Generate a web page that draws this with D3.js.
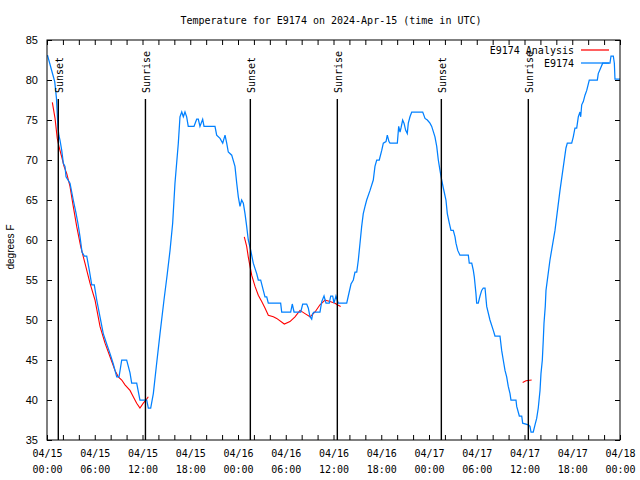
<!DOCTYPE html>
<html><head><meta charset="utf-8">
<script src="https://cdn.jsdelivr.net/npm/d3@7"></script>
<style>body{margin:0;background:#fff;}svg{display:block}</style>
</head><body>
<script>
// Observed temperature (E9174): hours since 2024-04-15 00:00 UTC, degrees F
const obsHours = [0.06,0.50,0.97,1.19,1.38,1.51,1.63,1.85,2.05,2.26,2.39,2.89,3.30,3.64,3.90,4.15,4.40,4.69,4.99,5.32,5.62,5.94,6.25,6.66,7.07,7.50,7.92,8.33,8.76,9.05,9.39,10.01,10.43,10.64,11.27,11.68,12.53,12.73,13.03,13.36,13.78,14.20,14.70,15.08,15.46,15.79,16.08,16.50,16.71,16.93,17.13,17.34,17.55,17.75,18.47,18.81,19.01,19.22,19.56,19.73,21.11,21.32,21.74,22.08,22.37,22.58,22.78,23.21,23.62,23.84,24.04,24.25,24.46,24.67,24.88,25.09,25.29,25.60,25.92,26.35,26.55,26.85,27.18,27.39,27.61,27.81,29.36,29.49,30.62,30.82,31.04,31.88,32.13,32.63,32.83,33.05,33.26,33.39,33.55,34.30,34.52,34.81,35.06,35.47,35.65,35.90,36.06,36.31,36.60,37.66,37.86,38.20,38.49,38.70,38.92,39.12,39.33,39.54,39.74,39.96,40.17,40.59,41.00,41.21,41.43,41.75,42.06,42.26,42.60,42.76,42.97,43.10,44.02,44.19,44.36,44.48,44.69,44.86,45.07,45.27,45.40,45.61,45.83,47.21,47.50,47.79,48.12,48.34,48.75,48.97,49.17,49.38,49.59,49.80,50.13,50.30,50.55,50.76,51.05,51.27,51.39,51.61,51.89,52.94,53.06,53.37,53.57,53.69,53.90,53.99,54.19,54.41,54.62,54.82,55.04,55.25,55.66,56.08,56.29,56.92,57.13,57.33,57.55,57.76,57.96,58.18,58.30,58.93,59.02,59.35,59.65,59.77,60.48,60.69,60.82,61.10,61.32,61.53,61.73,61.95,62.07,62.24,62.36,62.45,62.61,62.70,63.20,63.83,64.46,65.21,65.38,65.93,66.13,66.34,66.56,66.76,66.97,67.06,67.19,67.39,67.60,67.82,68.14,69.15,69.27,69.57,69.82,70.74,70.87,71.16,71.29,71.37,72.00];
const obsTemps = [83.1,81.5,79.8,77.7,74.0,73.0,72.5,71.2,69.6,69.2,67.9,67.1,65.0,63.4,62.0,60.4,58.5,58.0,58.0,56.2,54.4,54.4,52.5,50.4,48.3,47.0,45.8,44.5,42.9,42.9,45.0,45.0,43.4,42.1,42.1,40.0,40.0,39.0,39.0,40.8,44.6,48.3,52.5,55.5,58.7,62.1,67.1,72.1,75.4,76.0,75.4,76.0,75.4,74.2,74.2,75.1,75.1,74.2,75.1,74.2,74.2,73.1,72.7,72.1,73.1,72.1,71.0,70.6,69.2,67.1,65.4,64.2,65.0,64.6,63.3,61.7,60.0,58.7,57.1,55.8,55.0,55.0,53.7,52.9,52.9,52.1,52.1,51.0,51.0,52.0,51.0,51.0,52.0,52.0,51.5,50.4,50.1,50.8,51.0,51.0,52.3,53.0,52.1,52.1,53.0,53.0,52.1,53.0,52.1,52.1,53.0,54.5,55.0,56.0,56.0,57.5,59.6,61.7,63.3,64.2,65.0,66.2,67.5,69.2,70.0,70.0,71.2,72.1,72.3,73.1,72.3,72.1,72.1,74.2,73.5,74.0,75.0,74.6,73.7,73.3,74.6,75.4,76.0,76.0,75.2,75.0,74.6,74.2,72.9,71.7,70.0,68.7,67.5,66.5,65.0,63.3,62.1,61.2,61.2,60.4,59.6,58.7,58.1,58.1,57.1,57.1,56.2,55.4,53.3,52.1,52.1,53.0,53.7,54.0,54.0,51.7,50.0,48.7,48.0,48.0,46.2,45.0,43.7,42.9,41.7,40.8,40.0,40.0,39.2,38.0,38.0,37.1,36.9,36.7,36.0,36.0,36.9,37.7,39.0,41.2,43.3,45.0,47.5,49.6,51.7,53.7,57.5,61.2,66.2,71.5,72.1,72.1,72.9,74.0,74.0,75.4,76.0,75.4,76.9,77.3,78.1,78.7,80.0,80.0,80.8,81.5,82.1,82.1,83.0,83.0,82.1,80.1,80.1];
// Analysis (E9174 Analysis): null separates segments
const anaHours = [0.67,1.01,1.29,1.55,1.85,2.14,2.48,2.89,3.30,3.73,4.23,4.77,5.40,6.03,6.66,7.29,7.92,8.54,8.96,9.39,9.80,10.43,10.84,11.27,11.68,12.10,12.44,12.73,null,24.79,25.09,25.29,25.51,25.72,26.14,26.55,26.98,27.39,27.81,28.44,28.86,29.82,30.53,31.16,31.79,32.42,33.05,33.68,34.30,34.93,35.56,36.19,36.48,36.90,null,59.77,60.19,60.90];
const anaTemps = [77.2,75.2,72.7,71.5,70.4,69.2,68.3,66.7,64.2,61.7,59.2,57.1,54.6,52.5,49.2,47.1,45.4,43.7,42.9,42.5,41.9,41.2,40.4,39.6,39.0,39.6,40.0,40.4,null,60.4,59.2,57.9,56.7,55.6,54.2,53.1,52.3,51.5,50.6,50.4,50.2,49.5,49.8,50.4,51.2,50.8,50.4,51.0,51.9,52.5,52.3,52.1,51.9,51.7,null,42.2,42.4,42.5];
// Sunrise / sunset markers
const sunLabels = ["Sunset","Sunrise","Sunset","Sunrise","Sunset","Sunrise"];
const sunHours = [1.42,12.37,25.55,36.48,49.55,60.48];
const yTicks = [35,40,45,50,55,60,65,70,75,80,85];
const seriesNames = ["E9174 Analysis","E9174"];
const seriesColors = ["#ff0000","#0080ff"];
const titleText = "Temperature for E9174 on 2024-Apr-15 (time in UTC)";
const yLabelText = "degrees F";

const W=640,H=480, L=47,R=620,T=40,B=440;
const base = Date.UTC(2024,3,15);
const toDate = h => new Date(base + h*3600e3);
const fmtDate = d3.utcFormat("%m/%d"), fmtTime = d3.utcFormat("%H:%M");

const svg = d3.select("body").append("svg").attr("width",W).attr("height",H)
  .style("font-family","'DejaVu Sans Mono', monospace");
svg.append("rect").attr("width",W).attr("height",H).attr("fill","#fff");

const x = d3.scaleUtc().domain([toDate(0),toDate(72)]).range([L,R]);
const y = d3.scaleLinear().domain([35,85]).range([B,T]);

const minorT = d3.utcHour.every(2).range(toDate(0),toDate(72.01));
const majorT = d3.utcHour.every(6).range(toDate(0),toDate(72.01));

function styleAxis(g){ g.select(".domain").remove(); g.selectAll("line").attr("stroke","#000"); }
svg.append("g").attr("transform",`translate(0,${B})`)
  .call(d3.axisBottom(x).tickValues(minorT).tickSizeInner(-5).tickSizeOuter(0).tickFormat(""))
  .call(styleAxis);
svg.append("g").attr("transform",`translate(0,${T})`)
  .call(d3.axisTop(x).tickValues(minorT).tickSizeInner(-5).tickSizeOuter(0).tickFormat(""))
  .call(styleAxis);
const xl = svg.append("g").attr("transform",`translate(0,${B})`)
  .call(d3.axisBottom(x).tickValues(majorT).tickSize(0).tickPadding(0).tickFormat(""))
  .call(styleAxis);
xl.selectAll(".tick").each(function(d){
  const t = d3.select(this).append("text").attr("fill","#000").attr("font-size",10)
    .attr("text-anchor","middle").attr("font-family","'DejaVu Sans Mono', monospace");
  t.append("tspan").attr("x",0).attr("y",17).text(fmtDate(d));
  t.append("tspan").attr("x",0).attr("y",33).text(fmtTime(d));
});
svg.append("g").attr("transform",`translate(${L},0)`)
  .call(d3.axisLeft(y).tickValues(yTicks).tickSizeInner(-5).tickSizeOuter(0).tickPadding(9))
  .call(styleAxis)
  .selectAll("text").attr("font-size",11).attr("font-family","'Liberation Sans', Arial, sans-serif").attr("fill","#000");
svg.append("g").attr("transform",`translate(${R},0)`)
  .call(d3.axisRight(y).tickValues(yTicks).tickSizeInner(-5).tickSizeOuter(0).tickFormat(""))
  .call(styleAxis);

// data lines
const line = d3.line().defined((d)=>d[0]!=null && d[1]!=null).x(d=>x(toDate(d[0]))).y(d=>y(d[1]));
const anaData = anaHours.map((h,i)=>[h,anaTemps[i]]);
const obsData = obsHours.map((h,i)=>[h,obsTemps[i]]);
svg.append("path").datum(anaData).attr("d",line).attr("fill","none").attr("stroke",seriesColors[0]).attr("stroke-width",1.1);
svg.append("path").datum(obsData).attr("d",line).attr("fill","none").attr("stroke",seriesColors[1]).attr("stroke-width",1.25);

// sun markers
sunHours.forEach((h,i)=>{
  const px = x(toDate(h));
  svg.append("line").attr("x1",px).attr("x2",px).attr("y1",99).attr("y2",B).attr("stroke","#000").attr("stroke-width",1.4);
  svg.append("text").attr("transform",`translate(${px+1.5},93) rotate(-90)`)
    .attr("dominant-baseline","central").attr("font-size",10).attr("fill","#000").text(sunLabels[i]);
});

// border
svg.append("rect").attr("x",L).attr("y",T).attr("width",R-L).attr("height",B-T).attr("fill","none").attr("stroke","#000");

// title & y label
svg.append("text").attr("x",331).attr("y",24).attr("text-anchor","middle").attr("font-size",10).text(titleText);
svg.append("text").attr("transform",`translate(14,247) rotate(-90)`).attr("text-anchor","middle")
  .attr("font-size",10).attr("font-family","'Liberation Sans', Arial, sans-serif").text(yLabelText);

// legend
seriesNames.forEach((n,i)=>{
  const ly = 50 + i*13;
  svg.append("text").attr("x",574).attr("y",ly).attr("dominant-baseline","central").attr("text-anchor","end").attr("font-size",10).text(n);
  svg.append("line").attr("x1",581).attr("x2",609).attr("y1",ly).attr("y2",ly).attr("stroke",seriesColors[i]).attr("stroke-width",1.25);
});
</script>
</body></html>
